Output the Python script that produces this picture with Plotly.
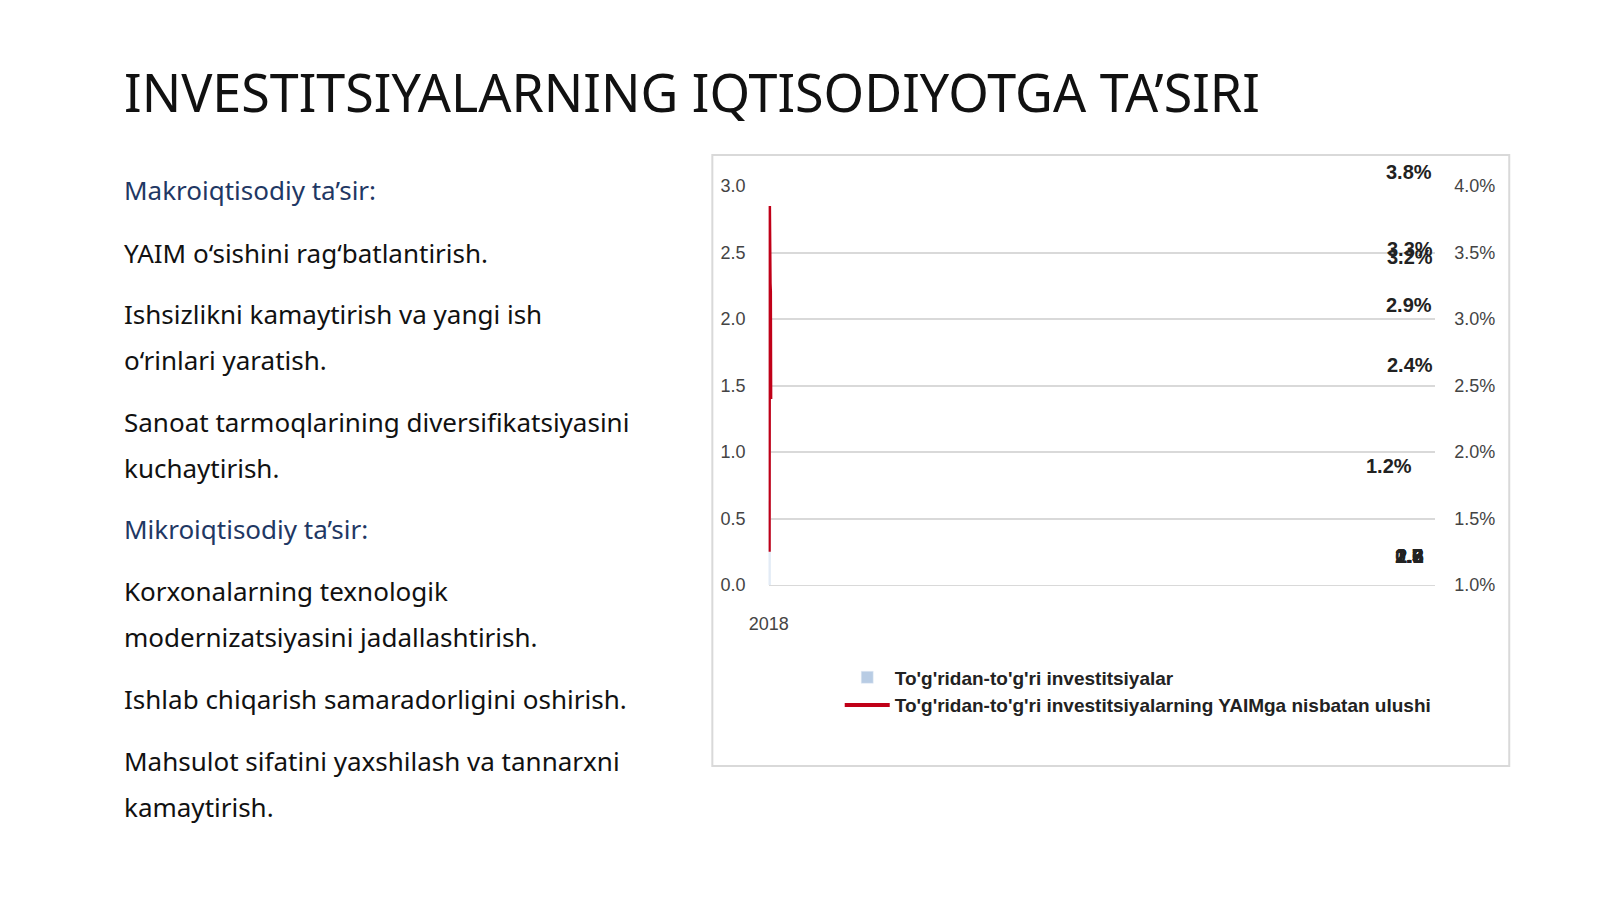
import plotly.graph_objects as go

years = ["2018", "2019", "2020", "2021", "2022", "2023"]
fdi = [0.63, 2.33, 1.72, 2.28, 2.6, 2.18]
fdi_labels = ["0.6", "2.3", "1.7", "2.3", "2.6", "2.2"]
share = [1.25, 3.85, 2.85, 3.27, 3.21, 2.40]
share_labels = ["1.2%", "3.8%", "2.9%", "3.3%", "3.2%", "2.4%"]

title = "INVESTITSIYALARNING IQTISODIYOTGA TA’SIRI"
left_lines = [
    ("Makroiqtisodiy ta’sir:", 176, True),
    ("YAIM o‘sishini rag‘batlantirish.", 240, False),
    ("Ishsizlikni kamaytirish va yangi ish", 303, False),
    ("o‘rinlari yaratish.", 350, False),
    ("Sanoat tarmoqlarining diversifikatsiyasini", 413, False),
    ("kuchaytirish.", 460, False),
    ("Mikroiqtisodiy ta’sir:", 523, True),
    ("Korxonalarning texnologik", 586, False),
    ("modernizatsiyasini jadallashtirish.", 633, False),
    ("Ishlab chiqarish samaradorligini oshirish.", 696, False),
    ("Mahsulot sifatini yaxshilash va tannarxni", 760, False),
    ("kamaytirish.", 807, False),
]

W, H = 1600, 899
CF = "Liberation Sans Narrow, Liberation Sans, Arial"
fig = go.Figure()
fig.add_trace(go.Bar(
    x=years, y=fdi, name="<b>To'g'ridan-to'g'ri investitsiyalar</b>",
    marker_color="#b8cce4", width=0.3,
))
fig.add_trace(go.Scatter(
    x=years, y=share, yaxis="y2", mode="lines",
    name="<b>To'g'ridan-to'g'ri investitsiyalarning YAIMga nisbatan ulushi</b>",
    line=dict(color="#c00018", width=4),
))

x0, x1 = 750 / W, 1425 / W
y0, y1 = 1 - 580 / H, 1 - 172 / H
fig.update_layout(
    width=W, height=H, plot_bgcolor="white", paper_bgcolor="white",
    margin=dict(l=0, r=0, t=0, b=0), bargap=0.7,
    font=dict(family=CF, size=18, color="#444"),
    xaxis=dict(domain=[x0, x1], anchor="y", showline=True, linecolor="#d9d9d9",
               ticklabelstandoff=22, tickfont=dict(size=18, color="#444")),
    yaxis=dict(domain=[y0, y1], range=[0, 3.0], dtick=0.5, tickformat=".1f",
               gridcolor="#d9d9d9", gridwidth=1.5, zeroline=False,
               ticklabelstandoff=22, tickfont=dict(size=18, color="#444")),
    yaxis2=dict(overlaying="y", side="right", range=[1.0, 4.0], dtick=0.5,
                tickformat=".1f", ticksuffix="%", showgrid=False,
                ticklabelstandoff=18, tickfont=dict(size=18, color="#444")),
    legend=dict(x=822 / W, y=1 - 655 / H, xanchor="left", yanchor="top",
                font=dict(family=CF, size=19, color="#222"),
                tracegroupgap=22, itemwidth=45),
    shapes=[dict(type="rect", xref="paper", yref="paper",
                 x0=693 / W, x1=1500 / W, y0=1 - 765 / H, y1=1 - 140 / H,
                 line=dict(color="#d9d9d9", width=2))],
)
anns = [dict(text=title, x=95 / W, y=1 - 75 / H, xref="paper", yref="paper",
             xanchor="left", yanchor="middle", showarrow=False,
             font=dict(family="Noto Sans", size=52, color="#111"))]
for t, yy, head in left_lines:
    anns.append(dict(text=t, x=95 / W, y=1 - yy / H, xref="paper", yref="paper",
                     xanchor="left", yanchor="middle", showarrow=False,
                     font=dict(family="Noto Sans", size=26,
                               color="#1f3864" if head else "#111")))
for yr, lab in zip(years, fdi_labels):
    anns.append(dict(text="<b>" + lab + "</b>", x=yr, y=0, xref="x", yref="y",
                     yanchor="bottom", yshift=16, showarrow=False,
                     font=dict(family=CF, size=20, color="#222")))
for i, (yr, v, lab) in enumerate(zip(years, share, share_labels)):
    first = i == 0
    anns.append(dict(text="<b>" + lab + "</b>", x=yr, y=v, xref="x", yref="y2",
                     yanchor="middle", yshift=86 if first else 34,
                     xshift=-20 if first else 0, showarrow=False,
                     font=dict(family=CF, size=20, color="#222")))
fig.update_layout(annotations=anns)
fig.write_html("out.html")
